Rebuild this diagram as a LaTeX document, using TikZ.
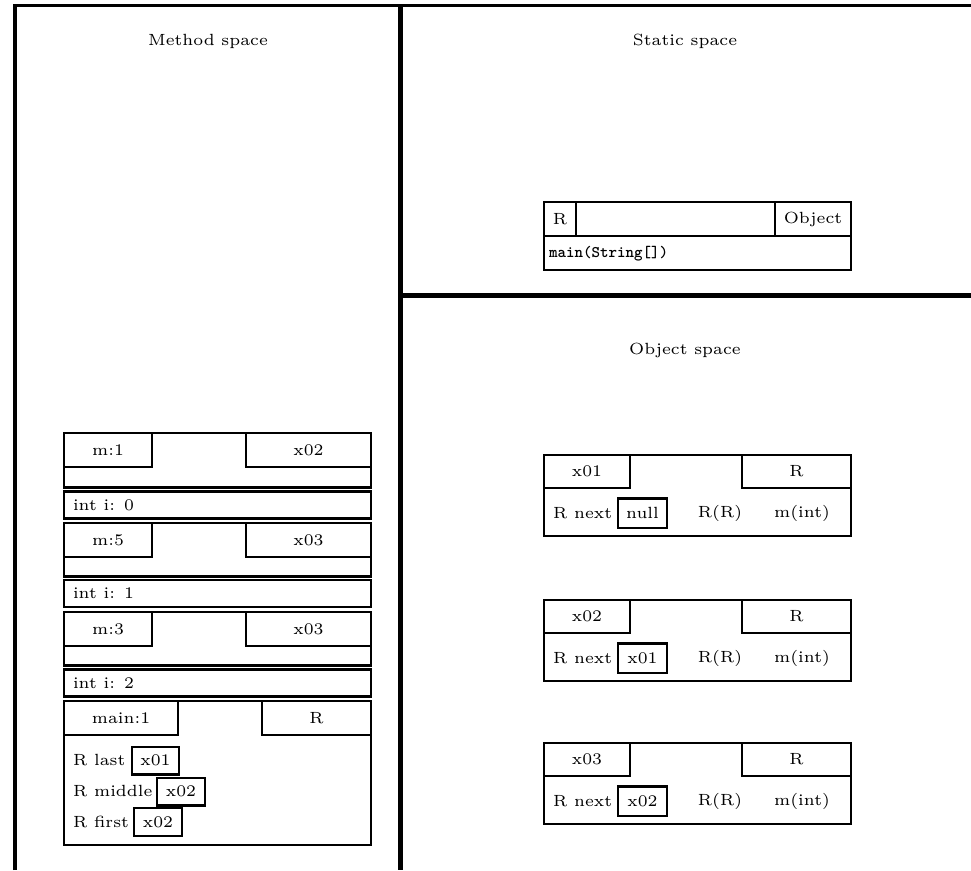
\documentclass[tikz,border=0pt]{standalone}
\usepackage{graphicx}
\newcommand{\lbl}[1]{\scalebox{2.7}{\fontsize{6}{7}\selectfont #1}}
\newcommand{\lbltt}[1]{\scalebox{2.7}{\fontsize{6}{7}\selectfont\ttfamily\bfseries #1}}
\tikzset{
  bx/.style={draw, line width=2.2pt, inner sep=0pt, outer sep=0pt, anchor=north west},
  txt/.style={inner sep=0pt, outer sep=0pt},
  edge/.style={line width=2.2pt},
}
\newcommand{\objbox}[4]{%
\begin{scope}[shift={(0,#2)}]
  \node[bx, minimum width=307pt, minimum height=81pt] (#1) at (544,0) {};
  \node[bx, minimum width=86pt, minimum height=33pt] (#1h) at (544,0) {};
  \node[bx, minimum width=109pt, minimum height=33pt] (#1c) at (742,0) {};
  \node[txt] (#1ht) at (#1h.center) {\lbl{#3}};
  \node[txt] (#1ct) at (#1c.center) {\lbl{R}};
  \node[txt, anchor=west] (#1f) at (553,58) {\lbl{R next}};
  \node[bx, minimum width=49pt, minimum height=29.5pt] (#1rb) at (618,43.5) {};
  \node[txt] (#1rt) at (#1rb.center) {\lbl{#4}};
  \node[txt] (#1k) at (720,58) {\lbl{R(R)}};
  \node[txt] (#1m) at (802,58) {\lbl{m(int)}};
\end{scope}}
\newcommand{\mframe}[5]{%
\begin{scope}[shift={(0,#2)}]
  \node[bx, minimum width=307pt, minimum height=#5] (#1) at (64,0) {};
  \node[bx, minimum width=88pt, minimum height=34pt] (#1h) at (64,0) {};
  \node[bx, minimum width=125pt, minimum height=34pt] (#1c) at (246,0) {};
  \node[txt] (#1ht) at (#1h.center) {\lbl{#3}};
  \node[txt] (#1ct) at (#1c.center) {\lbl{#4}};
\end{scope}}
\newcommand{\intbox}[3]{%
\begin{scope}[shift={(0,#2)}]
  \node[bx, minimum width=307pt, minimum height=27pt] (#1) at (64,0) {};
  \node[txt, anchor=west] (#1t) at (73,13.5) {\lbl{#3}};
\end{scope}}
\begin{document}
\begin{tikzpicture}[x=1pt,y=-1pt]
\useasboundingbox (0,0) rectangle (971,870);
% space borders
\draw[line width=3.5pt] (15,870) -- (15,5.5) -- (971,5.5);
\draw[line width=5pt] (400,5.5) -- (400,870);
\draw[line width=5pt] (400,295.5) -- (971,295.5);
% titles
\node[txt] (mspace) at (208,41) {\lbl{Method space}};
\node[txt] (sspace) at (685,41) {\lbl{Static space}};
\node[txt] (ospace) at (685,350) {\lbl{Object space}};
% static class box
\node[bx, minimum width=307pt, minimum height=68pt] (cls) at (544,202) {};
\draw[edge] (544,236) -- (851,236);
\node[bx, minimum width=32pt, minimum height=34pt] (clsR) at (544,202) {};
\node[bx, minimum width=76pt, minimum height=34pt] (clsO) at (775,202) {};
\node[txt] (clsRt) at (clsR.center) {\lbl{R}};
\node[txt] (clsOt) at (clsO.center) {\lbl{Object}};
\node[txt, anchor=west] (clsm) at (549,254) {\lbltt{main(String[])}};
% objects
\objbox{oa}{455}{x01}{null}
\objbox{ob}{600}{x02}{x01}
\objbox{oc}{743}{x03}{x02}
% method frames
\mframe{fa}{433}{m:1}{x02}{54.5pt}
\intbox{ia}{491.5}{int i: 0}
\mframe{fb}{523}{m:5}{x03}{53.5pt}
\intbox{ib}{580}{int i: 1}
\mframe{fc}{612}{m:3}{x03}{53.5pt}
\intbox{ic}{669.5}{int i: 2}
% main frame
\node[bx, minimum width=307pt, minimum height=144pt] (mf) at (64,701) {};
\node[bx, minimum width=114pt, minimum height=34pt] (mfh) at (64,701) {};
\node[bx, minimum width=109pt, minimum height=34pt] (mfc) at (262,701) {};
\node[txt] (mfht) at (mfh.center) {\lbl{main:1}};
\node[txt] (mfct) at (mfc.center) {\lbl{R}};
\node[txt, anchor=west] (vlast) at (73,760.5) {\lbl{R last}};
\node[bx, minimum width=47pt, minimum height=27.5pt] (vlastb) at (132,747) {};
\node[txt] (vlastt) at (vlastb.center) {\lbl{x01}};
\node[txt, anchor=west] (vmid) at (73,791.5) {\lbl{R middle}};
\node[bx, minimum width=48pt, minimum height=27.5pt] (vmidb) at (157,778) {};
\node[txt] (vmidt) at (vmidb.center) {\lbl{x02}};
\node[txt, anchor=west] (vfirst) at (73,822) {\lbl{R first}};
\node[bx, minimum width=48pt, minimum height=28pt] (vfirstb) at (134,808) {};
\node[txt] (vfirstt) at (vfirstb.center) {\lbl{x02}};
\end{tikzpicture}
\end{document}
